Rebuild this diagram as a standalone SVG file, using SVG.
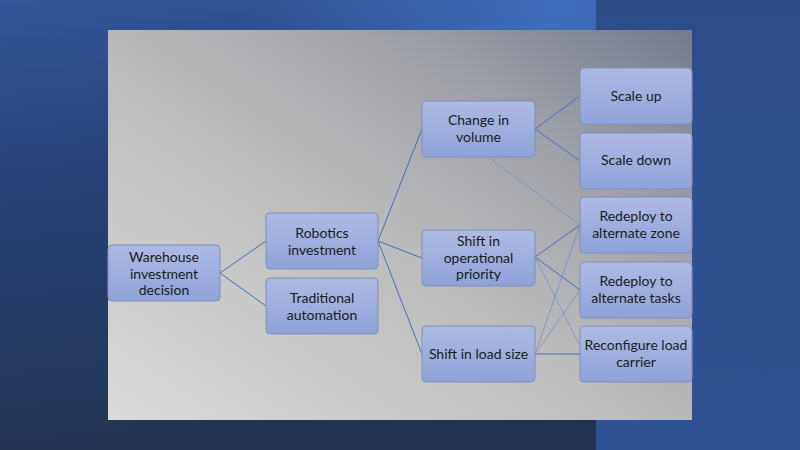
<svg xmlns="http://www.w3.org/2000/svg" width="800" height="450" viewBox="0 0 800 450">
<defs>
<linearGradient id="bg" x1="0" y1="0" x2="0.2" y2="1">
<stop offset="0" stop-color="#34569a"/>
<stop offset="0.35" stop-color="#27457a"/>
<stop offset="1" stop-color="#213352"/>
</linearGradient>
<radialGradient id="glow" cx="560" cy="0" r="320" gradientUnits="userSpaceOnUse">
<stop offset="0" stop-color="#416fc0" stop-opacity="0.95"/>
<stop offset="1" stop-color="#416fc0" stop-opacity="0"/>
</radialGradient>
<linearGradient id="strip" x1="0" y1="0" x2="0" y2="1">
<stop offset="0" stop-color="#2c4c86"/>
<stop offset="0.3" stop-color="#2f508e"/>
<stop offset="1" stop-color="#2f5292"/>
</linearGradient>
<linearGradient id="panel" x1="0" y1="1" x2="1" y2="0">
<stop offset="0" stop-color="#dadada"/>
<stop offset="0.45" stop-color="#bdbdbd"/>
<stop offset="0.72" stop-color="#a1a3a9"/>
<stop offset="1" stop-color="#737b8c"/>
</linearGradient>
<linearGradient id="node" x1="0" y1="0" x2="0" y2="1">
<stop offset="0" stop-color="#adbae3"/>
<stop offset="1" stop-color="#8fa3d9"/>
</linearGradient>
<style>
.n rect{fill:url(#node);stroke:#8090bd;stroke-width:1}
.n text{font-family:Lato,"Liberation Sans",sans-serif;font-size:14px;fill:#1b1b1b;text-anchor:middle}
.c line{stroke:#4470c4;stroke-width:1}
.c line.f{stroke:#6b8acd;stroke-width:0.7}
</style>
</defs>
<rect width="800" height="450" fill="url(#bg)"/>
<rect width="800" height="450" fill="url(#glow)"/>
<rect x="596" y="0" width="204" height="450" fill="url(#strip)"/>
<rect x="108" y="30" width="584" height="390" fill="url(#panel)"/>
<g class="c" id="connectors">
<line x1="220" y1="273" x2="266" y2="241"/>
<line x1="220" y1="273" x2="266" y2="306"/>
<line x1="378" y1="241" x2="422" y2="129"/>
<line x1="378" y1="241" x2="422" y2="258"/>
<line x1="378" y1="241" x2="422" y2="354"/>
<line x1="535" y1="129" x2="580" y2="96"/>
<line x1="535" y1="129" x2="580" y2="161"/>
<line class="f" x1="488" y1="157" x2="580" y2="225"/>
<line x1="535" y1="257" x2="580" y2="225"/>
<line x1="535" y1="257" x2="580" y2="290"/>
<line class="f" x1="535" y1="257" x2="580" y2="346"/>
<line class="f" x1="535" y1="354" x2="580" y2="225"/>
<line class="f" x1="535" y1="354" x2="580" y2="290"/>
<line x1="535" y1="354" x2="580" y2="354"/>
</g>
<g class="n" id="warehouse"><rect x="108" y="245" width="112" height="56" rx="4"/>
<text x="164" y="262">Warehouse</text><text x="164" y="278.5">investment</text><text x="164" y="295">decision</text></g>
<g class="n" id="robotics"><rect x="266" y="213" width="112" height="56" rx="4"/>
<text x="322" y="238">Robotics</text><text x="322" y="254.5">investment</text></g>
<g class="n" id="traditional"><rect x="266" y="278" width="112" height="56" rx="4"/>
<text x="322" y="303">Traditional</text><text x="322" y="319.5">automation</text></g>
<g class="n" id="volume"><rect x="422" y="101" width="113" height="56" rx="4"/>
<text x="478.5" y="125">Change in</text><text x="478.5" y="141.5">volume</text></g>
<g class="n" id="priority"><rect x="422" y="230" width="113" height="56" rx="4"/>
<text x="478.5" y="246">Shift in</text><text x="478.5" y="262.5">operational</text><text x="478.5" y="279">priority</text></g>
<g class="n" id="loadsize"><rect x="422" y="326" width="113" height="56" rx="4"/>
<text x="478.5" y="359">Shift in load size</text></g>
<g class="n" id="scaleup"><rect x="580" y="68" width="112" height="56" rx="4"/>
<text x="636" y="101">Scale up</text></g>
<g class="n" id="scaledown"><rect x="580" y="133" width="112" height="56" rx="4"/>
<text x="636" y="165">Scale down</text></g>
<g class="n" id="zone"><rect x="580" y="197" width="112" height="56" rx="4"/>
<text x="636" y="221">Redeploy to</text><text x="636" y="237.5">alternate zone</text></g>
<g class="n" id="tasks"><rect x="580" y="262" width="112" height="56" rx="4"/>
<text x="636" y="286">Redeploy to</text><text x="636" y="302.5">alternate tasks</text></g>
<g class="n" id="carrier"><rect x="580" y="326" width="112" height="56" rx="4"/>
<text x="636" y="350">Reconfigure load</text><text x="636" y="366.5">carrier</text></g>
</svg>
